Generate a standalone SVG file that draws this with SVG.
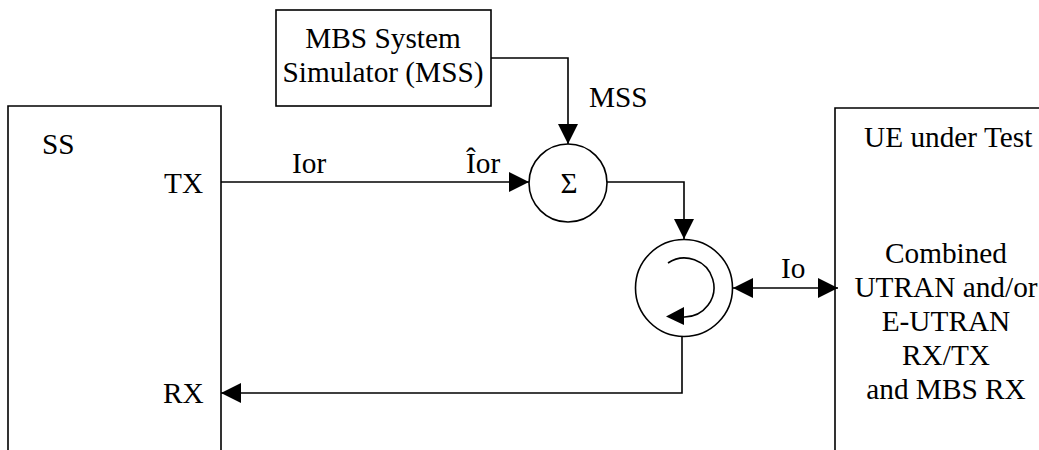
<svg xmlns="http://www.w3.org/2000/svg" width="1039" height="450" viewBox="0 0 1039 450">
<style>
text{font-family:"Liberation Serif","Times New Roman",serif;font-size:29.3px;fill:#000}
.m{text-anchor:middle}
.b{fill:#fff;stroke:#000;stroke-width:1.6}
.l{fill:none;stroke:#000;stroke-width:1.6}
</style>
<defs>
<marker id="a" markerUnits="userSpaceOnUse" markerWidth="20" markerHeight="20" refX="20" refY="10" orient="auto-start-reverse" viewBox="0 0 20 20"><path d="M0 0L20 10L0 20Z" fill="#000"/></marker>
</defs>
<rect width="1039" height="450" fill="#fff"/>
<g id="ss"><path class="l" d="M8 450V106H221V450"/><text x="42" y="154">SS</text><text x="164" y="193">TX</text><text x="163" y="403">RX</text></g>
<g id="mss"><rect class="b" x="276" y="10" width="215" height="96"/><text class="m" x="383" y="48">MBS System</text><text class="m" x="383" y="82">Simulator (MSS)</text></g>
<g id="ue"><path class="l" d="M1039 108H835V450"/><text x="864" y="147">UE under Test</text><text class="m" x="946" y="263">Combined</text><text class="m" x="946" y="297">UTRAN and/or</text><text class="m" x="946" y="331">E-UTRAN</text><text class="m" x="946" y="365">RX/TX</text><text class="m" x="946" y="399">and MBS RX</text></g>
<g id="sum"><circle class="b" cx="568" cy="183" r="39"/><text class="m" x="569" y="193" style="font-size:29.3px">Σ</text></g>
<g id="circulator"><circle class="b" cx="684" cy="288" r="48.5"/><path class="l" d="M668 263A29.5 29.5 0 1 1 684 317"/><path d="M666 316.500L684 307V325Z" fill="#000"/></g>
<g id="connectors">
<path class="l" marker-end="url(#a)" d="M221 182H529"/>
<path class="l" marker-end="url(#a)" d="M491 58H568V144"/>
<path class="l" marker-end="url(#a)" d="M607 182H684V239"/>
<path class="l" marker-start="url(#a)" marker-end="url(#a)" d="M733 288H838"/>
<path class="l" marker-end="url(#a)" d="M682 336V393H221"/>
</g>
<g id="labels"><text x="292" y="173">Ior</text><text x="466" y="173">Îor</text><text x="589" y="107">MSS</text><text x="781" y="278">Io</text></g>
</svg>
